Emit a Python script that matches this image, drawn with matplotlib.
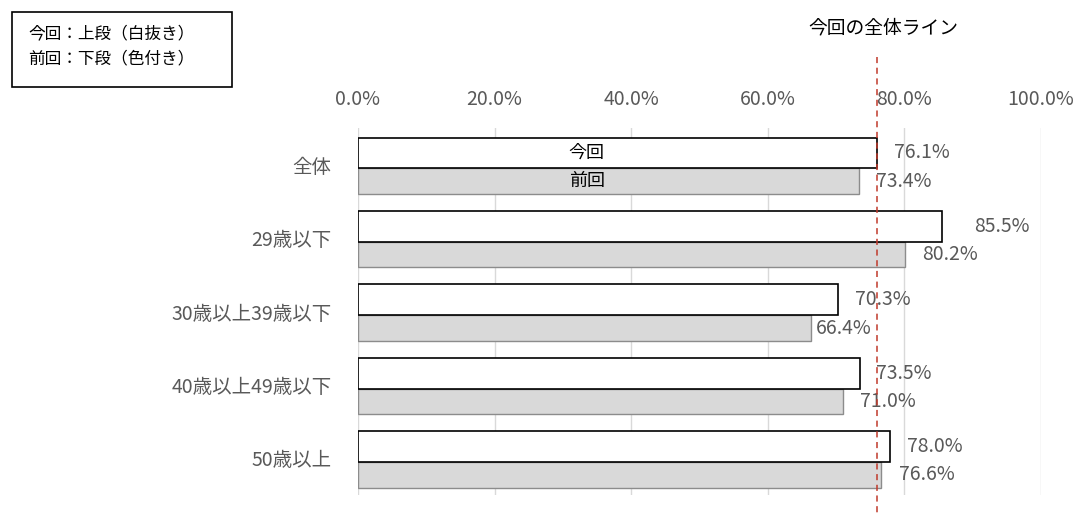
import numpy as np
import matplotlib.pyplot as plt
from matplotlib.patches import Rectangle
from matplotlib.transforms import blended_transform_factory

plt.rcParams['font.family'] = ['Noto Sans CJK JP', 'DejaVu Sans']

# data
categories = ['全体', '29歳以下', '30歳以上39歳以下', '40歳以上49歳以下', '50歳以上']
current = [76.1, 85.5, 70.3, 73.5, 78.0]    # 今回
previous = [73.4, 80.2, 66.4, 71.0, 76.6]   # 前回
xticks = [0, 20, 40, 60, 80, 100]
total_line = current[0]

# label x offsets (moved by hand in the original)
off_cur = [2.4, 4.8, 2.5, 2.4, 2.4]
off_prev = [2.5, 2.5, 0.7, 2.6, 2.6]

W, H = 1078, 515
fig = plt.figure(figsize=(W/100, H/100), dpi=100)
ax = fig.add_axes([358/W, 1 - 495/H, (1040.5-358)/W, (495-128)/H])

pos = np.arange(len(categories))
h_cur = 0.42
h_prev = 0.35
shift = 0.05

ax.barh(pos + shift - h_cur, current, height=h_cur, align='edge',
        color='white', edgecolor='black', linewidth=1.2, zorder=3)
ax.barh(pos + shift, previous, height=h_prev, align='edge',
        color='#d9d9d9', edgecolor='#8c8c8c', linewidth=1.0, zorder=2)

gray = '#595959'
for i in range(len(categories)):
    ax.text(current[i] + off_cur[i], pos[i] + shift - h_cur/2, '%.1f%%' % current[i],
            va='center', ha='left', fontsize=14, color=gray, zorder=5)
    ax.text(previous[i] + off_prev[i], pos[i] + shift + h_prev/2, '%.1f%%' % previous[i],
            va='center', ha='left', fontsize=14, color=gray, zorder=5)

# series names inside the first bars
ax.text(33.5, pos[0] + shift - h_cur/2, '今回', ha='center', va='center', fontsize=13, color='black', zorder=5)
ax.text(33.5, pos[0] + shift + h_prev/2, '前回', ha='center', va='center', fontsize=13, color='black', zorder=5)

ax.set_xlim(0, 100)
ax.set_ylim(len(categories) - 0.5, -0.5)
ax.set_xticks(xticks)
ax.set_xticklabels(['%.1f%%' % v for v in xticks])
ax.xaxis.tick_top()
ax.set_yticks(pos)
ax.set_yticklabels(categories)
ax.tick_params(axis='x', length=0, pad=13, labelsize=14, labelcolor=gray)
ax.tick_params(axis='y', length=0, pad=19, labelsize=14, labelcolor=gray)
ax.grid(axis='x', color='#d9d9d9', linewidth=1, zorder=0)
ax.set_axisbelow(True)
for s in ax.spines.values():
    s.set_visible(False)

# total line (dashed red), extends above the plot area
tr = blended_transform_factory(ax.transData, fig.transFigure)
ax.plot([total_line, total_line], [1 - 57/H, 0], transform=tr, color='#c0392b',
        linestyle=(0, (4, 3)), linewidth=1.1, clip_on=False, zorder=6)
fig.text(883/W, 1 - 28/H, '今回の全体ライン', ha='center', va='center', fontsize=13.5, color='black')

# legend box
fig.patches.append(Rectangle((12/W, 1 - 87/H), 220/W, 75/H, transform=fig.transFigure,
                             facecolor='white', edgecolor='black', linewidth=1.2))
fig.text(28/W, 1 - 34/H, '今回：上段（白抜き）', ha='left', va='center', fontsize=12)
fig.text(28/W, 1 - 59/H, '前回：下段（色付き）', ha='left', va='center', fontsize=12)

fig.savefig('out.png', dpi=100)
